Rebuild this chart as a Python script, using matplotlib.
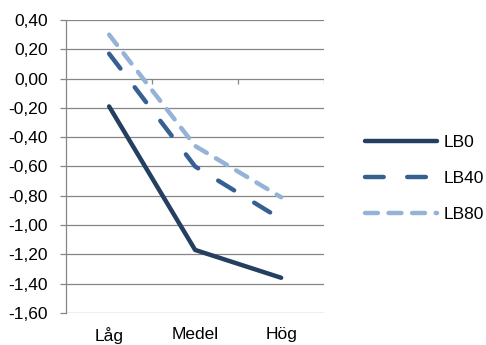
import numpy as np
import matplotlib.pyplot as plt

# data
kategorier = ['Låg', 'Medel', 'Hög']
lb0 = [-0.19, -1.17, -1.36]
lb40 = [0.17, -0.60, -0.96]
lb80 = [0.30, -0.46, -0.81]
yticks = np.round(np.arange(-1.6, 0.41, 0.2), 2)

plt.rcParams['font.family'] = ['Liberation Sans', 'DejaVu Sans']
grid_color = '#868686'
fs = 12.5

fig = plt.figure(figsize=(4.86, 3.45), dpi=100)
ax = fig.add_axes([0.136, 0.093, 0.531, 0.849])

x = np.arange(len(kategorier))
lw = 3.2
ax.plot(x, lb0, color='#243F60', lw=lw, solid_capstyle='round',
        solid_joinstyle='round', label='LB0', zorder=3)
ax.plot(x, lb40, color='#376092', lw=lw, dashes=(4.2, 5.3),
        dash_capstyle='round', label='LB40', zorder=3)
ax.plot(x, lb80, color='#95B3D7', lw=lw, dashes=(2.9, 2.4),
        dash_capstyle='round', label='LB80', zorder=3)

ax.set_xlim(-0.5, 2.5)
ax.set_ylim(-1.6, 0.4)
ax.set_yticks(yticks)
ax.set_yticklabels([('%.2f' % (v + 0.0)).replace('.', ',') for v in yticks],
                   fontsize=fs)
ax.yaxis.grid(True, color=grid_color, lw=0.9)
ax.set_axisbelow(True)

# x-axeln korsar vid 0, etiketterna längst ned
ax.set_xticks(x)
ax.set_xticklabels(kategorier, fontsize=fs)
ax.tick_params(axis='x', length=0, pad=10)
ax.tick_params(axis='y', length=4, color=grid_color, width=0.9, pad=9)
ax.vlines([0.5, 1.5, 2.5], -0.035, 0, color=grid_color, lw=0.9)

for s in ['top', 'right', 'bottom']:
    ax.spines[s].set_visible(False)
ax.spines['left'].set_color(grid_color)
ax.spines['left'].set_linewidth(0.9)

ax.legend(loc='center left', bbox_to_anchor=(0.751, 0.482),
          bbox_transform=fig.transFigure, frameon=False, fontsize=fs,
          handlelength=4.15, handletextpad=0.4, labelspacing=1.2,
          borderpad=0, borderaxespad=0)

fig.savefig('out.png', dpi=100)
